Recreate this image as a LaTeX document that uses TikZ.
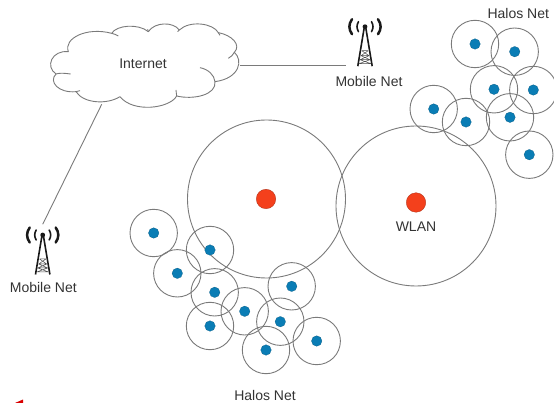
\documentclass[tikz,border=0pt]{standalone}
\usepackage{fontspec}
\setmainfont{Liberation Sans}
\tikzset{
  halo/.style={circle,draw=linecol,line width=0.9pt,minimum size=47.4pt,inner sep=0pt,outer sep=0pt},
  bigcell/.style={circle,draw=linecol,line width=0.9pt,inner sep=0pt,outer sep=0pt},
  bluedot/.style={circle,fill=dotblue,draw=dotblue!70!black,line width=0.2pt,minimum size=10.5pt,inner sep=0pt},
  reddot/.style={circle,fill=dotred,draw=dotred!70!black,line width=0.3pt,minimum size=19.5pt,inner sep=0pt},
  lbl/.style={text=textcol,font=\fontsize{14pt}{16pt}\selectfont,inner sep=0pt},
  link/.style={draw=linecol,line width=0.9pt},
  cloudline/.style={draw=linecol,line width=0.9pt,fill=white,line join=round},
  tower/.pic={
    \fill[black!90] (0,0) circle (2.4);
    \draw[black!90,line width=1.6pt,line join=round] (-7.2,39.5) -- (-0.6,0) -- (0.6,0) -- (7.2,39.5);
    \draw[black!70,line width=0.5pt] (-3.2,24) -- (3.2,24) (-4,29) -- (4,29) (-5,33) -- (5,33) (-6,37) -- (6,37)
      (-3.2,24) -- (4,29) -- (-5,33) -- (6,37) (3.2,24) -- (-4,29) -- (5,33) -- (-6,37);
    \draw[black!90,line width=1.6pt,line cap=round] (-6.5,-5) .. controls (-8.5,-1.5) and (-8.5,1.5) .. (-6.5,5);
    \draw[black!90,line width=1.6pt,line cap=round] (6.5,-5) .. controls (8.5,-1.5) and (8.5,1.5) .. (6.5,5);
    \draw[black!90,line width=2.5pt,line cap=round] (-13,-7.5) .. controls (-16.5,-2.5) and (-16.5,2.5) .. (-13,7.5);
    \draw[black!90,line width=2.5pt,line cap=round] (13,-7.5) .. controls (16.5,-2.5) and (16.5,2.5) .. (13,7.5);
  }
}
\definecolor{linecol}{HTML}{7A7A7A}
\definecolor{dotblue}{HTML}{0A7DB5}
\definecolor{dotred}{HTML}{F4401C}
\definecolor{textcol}{HTML}{333333}
\begin{document}
\begin{tikzpicture}[x=1pt,y=-1pt]
\useasboundingbox (0,0) rectangle (554,403);
% connector ends
\coordinate (cloudE) at (240,65.7);
\coordinate (cloudS) at (101.7,104.3);
\coordinate (mobileNE) at (346,65.7);
\coordinate (mobileSW) at (42.7,224.3);
\draw[link] (cloudE) -- (mobileNE);
\draw[link] (cloudS) -- (mobileSW);
% cloud (traced in 3x units)
\begin{scope}[x=0.3333pt,y=-0.3333pt]
\path[cloudline] (205,155)
  .. controls (190,115) and (260,80) .. (335,100)
  .. controls (350,75) and (415,70) .. (445,95)
  .. controls (465,65) and (520,65) .. (538,90)
  .. controls (570,60) and (640,70) .. (655,98)
  .. controls (695,105) and (725,135) .. (703,157)
  .. controls (730,180) and (720,235) .. (645,245)
  .. controls (650,285) and (580,300) .. (530,288)
  .. controls (510,325) and (400,340) .. (360,290)
  .. controls (320,315) and (250,310) .. (228,275)
  .. controls (175,280) and (145,245) .. (168,222)
  .. controls (135,200) and (155,150) .. (205,155) -- cycle;
\draw[linecol,line width=0.9pt] (168,222) .. controls (180,218) and (195,220) .. (212,222);
\draw[linecol,line width=0.9pt] (703,157) .. controls (700,165) and (693,170) .. (685,175);
\draw[linecol,line width=0.9pt] (600,203) .. controls (625,208) and (643,225) .. (645,245);
\draw[linecol,line width=0.9pt] (335,100) .. controls (342,102) and (350,104) .. (355,108);
\draw[linecol,line width=0.9pt] (445,95) -- (443,88);
\draw[linecol,line width=0.9pt] (538,90) -- (533,95);
\draw[linecol,line width=0.9pt] (530,288) -- (528,270);
\draw[linecol,line width=0.9pt] (228,275) -- (240,272);
\draw[linecol,line width=0.9pt] (655,98) -- (660,106);
\end{scope}
\node[lbl] (internet) at (143,64) {Internet};
% towers
\pic at (365,26.7) {tower};
\pic at (42.7,235) {tower};
\node[lbl] (mobileA) at (369,81) {Mobile Net};
\node[lbl] (mobileB) at (43.3,287.3) {Mobile Net};
% big cells
\node[bigcell,minimum size=158pt] (cellA) at (266.5,199) {};
\node[bigcell,minimum size=160pt] (cellB) at (416,206) {};
\node[reddot] (gwA) at (266,199) {};
\node[reddot] (gwB) at (416,202.5) {};
\node[lbl] (wlan) at (416,227) {WLAN};
% halos
\foreach \n/\p in {a/{475,44},b/{514.7,51.7},c/{494,89.3},d/{533.3,90},e/{510,117.3},f/{433.7,109},g/{466,122},h/{529.3,154.7},
  i/{153.7,233},j/{210,250},k/{177.3,273.3},l/{214.7,292.3},m/{244.7,311.3},n/{210,326},o/{291.7,286.3},q/{280.3,321.7},r/{316.7,341},s/{266,350}}{
  \node[halo] (halo\n) at (\p) {};
  \node[bluedot] (dot\n) at (\p) {};
}
\node[lbl] (halosA) at (518.3,13.7) {Halos Net};
\node[lbl] (halosB) at (265,395.7) {Halos Net};
\fill[red!85!black] (15,403) -- (23,399.5) -- (23,403) -- cycle;
\end{tikzpicture}
\end{document}
